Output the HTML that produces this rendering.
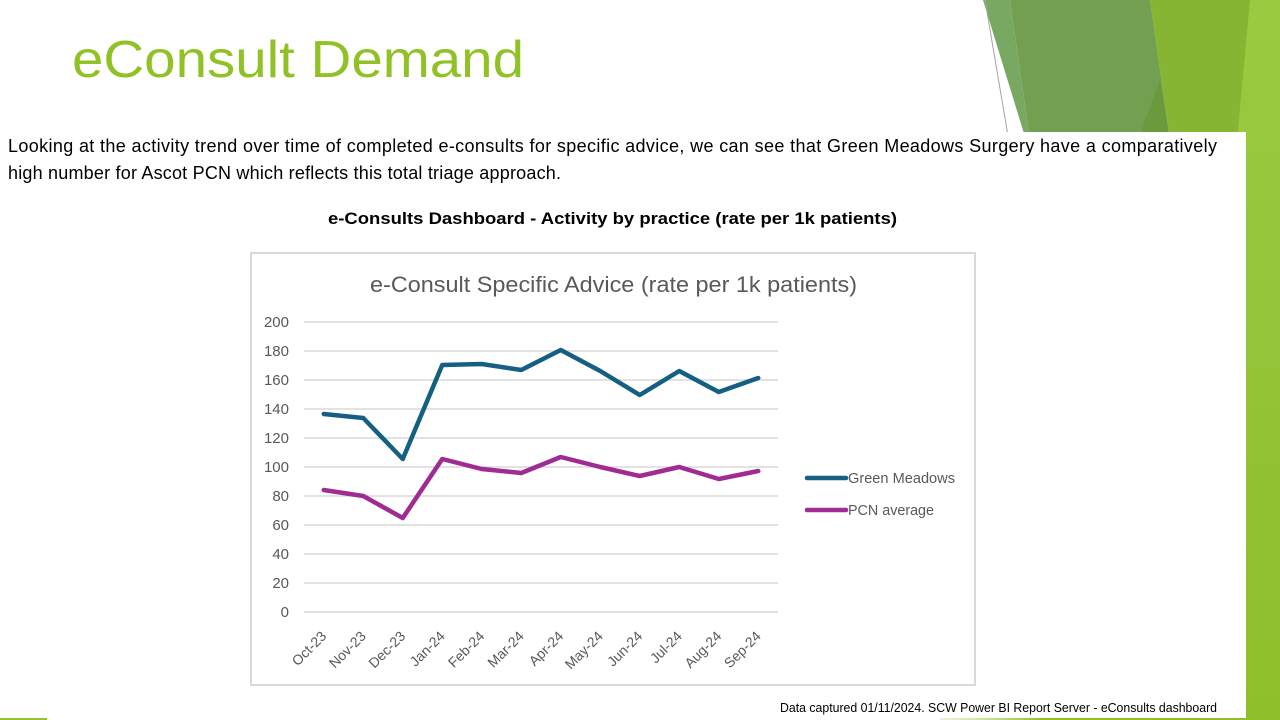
<!DOCTYPE html>
<html>
<head>
<meta charset="utf-8">
<style>
  html, body { margin:0; padding:0; background:#ffffff; }
  body { width:1280px; height:720px; overflow:hidden; }
  svg { display:block; }
</style>
</head>
<body>
<svg width="1280" height="720" viewBox="0 0 1280 720" xmlns="http://www.w3.org/2000/svg">
  <defs>
    <linearGradient id="rs" x1="0" y1="0" x2="0" y2="1">
      <stop offset="0" stop-color="#9aca40"/>
      <stop offset="0.5" stop-color="#94c437"/>
      <stop offset="1" stop-color="#8fbf2a"/>
    </linearGradient>
    <linearGradient id="bs" x1="0" y1="0" x2="1" y2="0">
      <stop offset="0" stop-color="#c8e29a" stop-opacity="0.4"/>
      <stop offset="0.3" stop-color="#90c226"/>
      <stop offset="1" stop-color="#8fbf2a"/>
    </linearGradient>
  </defs>
  <rect x="0" y="0" width="1280" height="720" fill="#ffffff"/>

  <!-- decorative shapes top-right -->
  <rect x="1236" y="0" width="44" height="720" fill="url(#rs)"/>
  <polygon points="1150,0 1250,0 1237,140 1170,140" fill="#86b433"/>
  <polygon points="1010,0 1150,0 1170,140 1030,140" fill="#72a050"/>
  <polygon points="983,0 1010,0 1030,140 1026,140" fill="#79a862"/>
  <polygon points="1138,140 1170,140 1160,80" fill="#6a9a3c"/>
  <line x1="985" y1="0" x2="1008" y2="136" stroke="#a3a3a3" stroke-width="1"/>

  <!-- white content panel -->
  <rect x="0" y="132" width="1246" height="586" fill="#ffffff"/>

  <!-- bottom green strips -->
  <rect x="0" y="718" width="47" height="2" fill="#92c52e"/>
  <rect x="940" y="718" width="340" height="2" fill="url(#bs)"/>

  <!-- slide title -->
  <text x="72" y="77" font-family="Liberation Sans, sans-serif" font-size="52" fill="#90c226" textLength="452" lengthAdjust="spacingAndGlyphs">eConsult Demand</text>

  <!-- paragraph -->
  <text x="8" y="152" font-family="Liberation Sans, sans-serif" font-size="18" fill="#000000" textLength="1209" lengthAdjust="spacing">Looking at the activity trend over time of completed e-consults for specific advice, we can see that Green Meadows Surgery have a comparatively</text>
  <text x="8" y="179" font-family="Liberation Sans, sans-serif" font-size="18" fill="#000000" textLength="553" lengthAdjust="spacing">high number for Ascot PCN which reflects this total triage approach.</text>

  <!-- dashboard caption -->
  <text x="328" y="224" font-family="Liberation Sans, sans-serif" font-size="17" font-weight="bold" fill="#000000" textLength="569" lengthAdjust="spacingAndGlyphs">e-Consults Dashboard - Activity by practice (rate per 1k patients)</text>

  <!-- chart box -->
  <rect x="251" y="253" width="724" height="432" fill="#ffffff" stroke="#d9d9d9" stroke-width="2"/>

  <!-- chart title -->
  <text x="370" y="292" font-family="Liberation Sans, sans-serif" font-size="22" fill="#595959" textLength="487" lengthAdjust="spacingAndGlyphs">e-Consult Specific Advice (rate per 1k patients)</text>

  <!-- gridlines -->
  <g stroke="#d9d9d9" stroke-width="1.5">
    <line x1="304" y1="322" x2="778" y2="322"/>
    <line x1="304" y1="351" x2="778" y2="351"/>
    <line x1="304" y1="380" x2="778" y2="380"/>
    <line x1="304" y1="409" x2="778" y2="409"/>
    <line x1="304" y1="438" x2="778" y2="438"/>
    <line x1="304" y1="467" x2="778" y2="467"/>
    <line x1="304" y1="496" x2="778" y2="496"/>
    <line x1="304" y1="525" x2="778" y2="525"/>
    <line x1="304" y1="554" x2="778" y2="554"/>
    <line x1="304" y1="583" x2="778" y2="583"/>
    <line x1="304" y1="612" x2="778" y2="612"/>
  </g>

  <!-- y labels -->
  <g font-family="Liberation Sans, sans-serif" font-size="15" fill="#595959" text-anchor="end">
    <text x="289" y="327">200</text>
    <text x="289" y="356">180</text>
    <text x="289" y="385">160</text>
    <text x="289" y="414">140</text>
    <text x="289" y="443">120</text>
    <text x="289" y="472">100</text>
    <text x="289" y="501">80</text>
    <text x="289" y="530">60</text>
    <text x="289" y="559">40</text>
    <text x="289" y="588">20</text>
    <text x="289" y="617">0</text>
  </g>

  <!-- x labels -->
  <g font-family="Liberation Sans, sans-serif" font-size="14" fill="#595959" text-anchor="end">
    <text transform="translate(327.3,637) rotate(-45)">Oct-23</text>
    <text transform="translate(366.8,637) rotate(-45)">Nov-23</text>
    <text transform="translate(406.3,637) rotate(-45)">Dec-23</text>
    <text transform="translate(445.8,637) rotate(-45)">Jan-24</text>
    <text transform="translate(485.3,637) rotate(-45)">Feb-24</text>
    <text transform="translate(524.8,637) rotate(-45)">Mar-24</text>
    <text transform="translate(564.3,637) rotate(-45)">Apr-24</text>
    <text transform="translate(603.8,637) rotate(-45)">May-24</text>
    <text transform="translate(643.3,637) rotate(-45)">Jun-24</text>
    <text transform="translate(682.8,637) rotate(-45)">Jul-24</text>
    <text transform="translate(722.3,637) rotate(-45)">Aug-24</text>
    <text transform="translate(761.8,637) rotate(-45)">Sep-24</text>
  </g>

  <!-- series -->
  <polyline fill="none" stroke="#156082" stroke-width="4.5" stroke-linejoin="round" stroke-linecap="round"
    points="323.75,414 363.25,418 402.75,459 442.25,365 481.75,364 521.25,370 560.75,350 600.25,371 639.75,395 679.25,371 718.75,392 758.25,378"/>
  <polyline fill="none" stroke="#a02b93" stroke-width="4.5" stroke-linejoin="round" stroke-linecap="round"
    points="323.75,490 363.25,496 402.75,518 442.25,459 481.75,469 521.25,473 560.75,457 600.25,467 639.75,476 679.25,467 718.75,479 758.25,471"/>

  <!-- legend -->
  <line x1="807" y1="478" x2="846" y2="478" stroke="#156082" stroke-width="4.5" stroke-linecap="round"/>
  <text x="848" y="483" font-family="Liberation Sans, sans-serif" font-size="14.5" fill="#595959" textLength="107" lengthAdjust="spacingAndGlyphs">Green Meadows</text>
  <line x1="807" y1="510" x2="846" y2="510" stroke="#a02b93" stroke-width="4.5" stroke-linecap="round"/>
  <text x="848" y="515" font-family="Liberation Sans, sans-serif" font-size="14.5" fill="#595959" textLength="86" lengthAdjust="spacingAndGlyphs">PCN average</text>

  <!-- footer -->
  <text x="780" y="712" font-family="Liberation Sans, sans-serif" font-size="12.5" fill="#000000" textLength="437" lengthAdjust="spacingAndGlyphs">Data captured 01/11/2024. SCW Power BI Report Server - eConsults dashboard</text>
</svg>
</body>
</html>
